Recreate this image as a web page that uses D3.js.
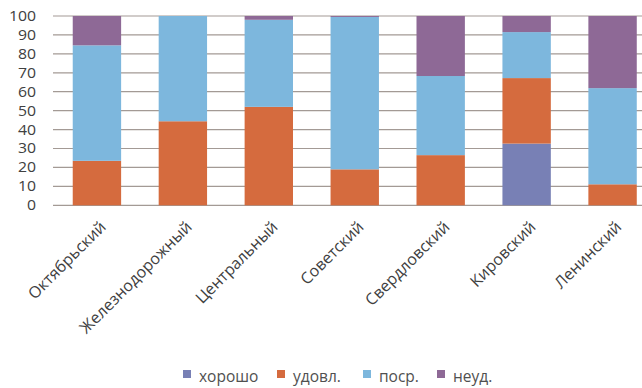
<!DOCTYPE html>
<html><head><meta charset="utf-8">
<script src="https://cdn.jsdelivr.net/npm/d3@7"></script>
<style>body{margin:0;background:#fff}svg{display:block}text{font-family:"Open Sans",sans-serif}</style>
</head><body><svg id="c" width="642" height="388"></svg>
<script>
const categories = ["Октябрьский","Железнодорожный","Центральный","Советский","Свердловский","Кировский","Ленинский"];
const seriesNames = ["хорошо","удовл.","поср.","неуд."];
const khorosho = [0,0,0,0,0,32.6,0];
const udovl = [23.5,44.4,52,19,26.5,34.6,11.1];
const posr = [61,55.6,46,80.5,41.8,24.3,50.8];
const neud = [15.5,0,2,0.5,31.7,8.5,38.1];
const yTicks = [0,10,20,30,40,50,60,70,80,90,100];
const colors = ["#7880B5","#D56B3E","#7DB7DD","#8E6996"];

const svg = d3.select("#c");
const rows = categories.map((c,i)=>({cat:c,"хорошо":khorosho[i],"удовл.":udovl[i],"поср.":posr[i],"неуд.":neud[i]}));
const stack = d3.stack().keys(seriesNames)(rows);

const x = d3.scaleBand().domain(categories).range([54,655.5]).paddingInner(0.437).paddingOuter(0.218);
const y = d3.scaleLinear().domain([0,100]).range([205.3,16]);

// grid
svg.append("g").selectAll("line").data(yTicks).join("line")
  .attr("x1",53).attr("x2",642).attr("y1",d=>y(d)).attr("y2",d=>y(d))
  .attr("stroke","#A39A95").attr("stroke-width",1.2);

// bars
svg.append("g").selectAll("g").data(stack).join("g").attr("fill",(d,i)=>colors[i])
  .selectAll("rect").data(d=>d).join("rect")
  .attr("x",d=>x(d.data.cat)).attr("width",x.bandwidth())
  .attr("y",d=>y(d[1])).attr("height",d=>Math.max(0,y(d[0])-y(d[1])));

// y axis labels
const yAxis = d3.axisLeft(y).tickValues(yTicks).tickSize(0).tickPadding(0);
const ya = svg.append("g").attr("transform","translate(36,0)").call(yAxis);
ya.select(".domain").remove();
ya.selectAll("text").attr("font-size",14).attr("fill","#404040").attr("font-family","Open Sans, sans-serif")
  .attr("transform","scale(1.13,1)");

// x labels
const xAxis = d3.axisBottom(x).tickSize(0).tickPadding(0);
const xa = svg.append("g").call(xAxis);
xa.select(".domain").remove();
xa.selectAll(".tick").attr("transform",d=>`translate(${x(d)+x.bandwidth()/2+6},224)`);
xa.selectAll("text").attr("font-size",16).attr("fill","#404040").attr("font-family","Open Sans, sans-serif")
  .attr("text-anchor","end").attr("dy","0.35em").attr("y",0).attr("transform","rotate(-45)");

// legend
const legX = [183,277,363,437];
const lg = svg.append("g").selectAll("g").data(seriesNames).join("g")
  .attr("transform",(d,i)=>`translate(${legX[i]},0)`);
lg.append("rect").attr("x",0).attr("y",370).attr("width",8).attr("height",8).attr("fill",(d,i)=>colors[i]);
lg.append("text").attr("x",16).attr("y",381.5).attr("font-size",15.5).attr("fill","#505050").text(d=>d);
</script></body></html>
